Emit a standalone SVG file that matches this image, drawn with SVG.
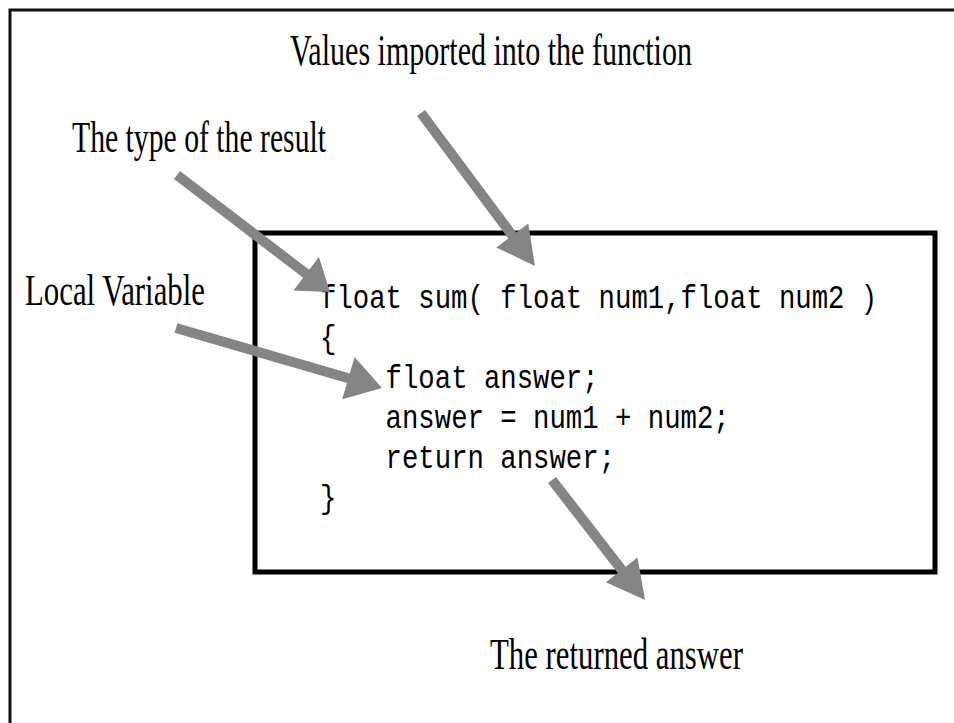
<svg xmlns="http://www.w3.org/2000/svg" width="954" height="723" viewBox="0 0 954 723">
  <style>
    .label { font-family: "Liberation Serif", "Times New Roman", serif; font-size: 44px; fill: #000; }
    .code { font-family: "Liberation Mono", "Courier New", monospace; font-size: 33px; fill: #000; white-space: pre; }
    .arrow { fill: #858585; stroke: none; }
    .frame { fill: none; stroke: #111; stroke-width: 3; }
    .box { fill: none; stroke: #000; stroke-width: 5; }
  </style>
  <rect x="0" y="0" width="954" height="723" fill="#fff"/>
  <path class="frame" d="M10,723 L10,10 L954,10"/>

  <g id="label-values">
    <text class="label" x="290" y="65" textLength="402" lengthAdjust="spacingAndGlyphs">Values imported into the function</text>
  </g>
  <g id="label-type">
    <text class="label" x="72" y="152" textLength="254" lengthAdjust="spacingAndGlyphs">The type of the result</text>
  </g>
  <g id="label-local">
    <text class="label" x="25" y="305" textLength="180" lengthAdjust="spacingAndGlyphs">Local Variable</text>
  </g>
  <g id="label-returned">
    <text class="label" x="490" y="669" textLength="253" lengthAdjust="spacingAndGlyphs">The returned answer</text>
  </g>

  <g id="code-box">
    <rect class="box" x="255" y="233" width="680" height="339"/>
    <g transform="translate(320,0) scale(0.828,1)">
      <text class="code" x="0" y="308">float sum( float num1,float num2 )</text>
      <text class="code" x="0" y="348">{</text>
      <text class="code" x="79.2" y="388">float answer;</text>
      <text class="code" x="79.2" y="428">answer = num1 + num2;</text>
      <text class="code" x="79.2" y="468">return answer;</text>
      <text class="code" x="0" y="508">}</text>
    </g>
  </g>

  <g id="connectors">
    <polygon class="arrow" points="174,179 303.2,277.8 293.5,290.5 330,292 318.9,257.1 309.2,269.8 180,171"/>
    <polygon class="arrow" points="174.6,332.8 347,383 342.2,399.3 382,388 354.6,357.1 349.8,373.4 177.4,323.2"/>
    <polygon class="arrow" points="417,116 508.3,238.5 496.3,247.4 535,266 528.3,223.6 516.3,232.5 425,110"/>
    <polygon class="arrow" points="548,483.1 617.7,573 605.9,582.2 645,600 637.5,557.6 625.7,566.8 556,476.9"/>
  </g>
</svg>
